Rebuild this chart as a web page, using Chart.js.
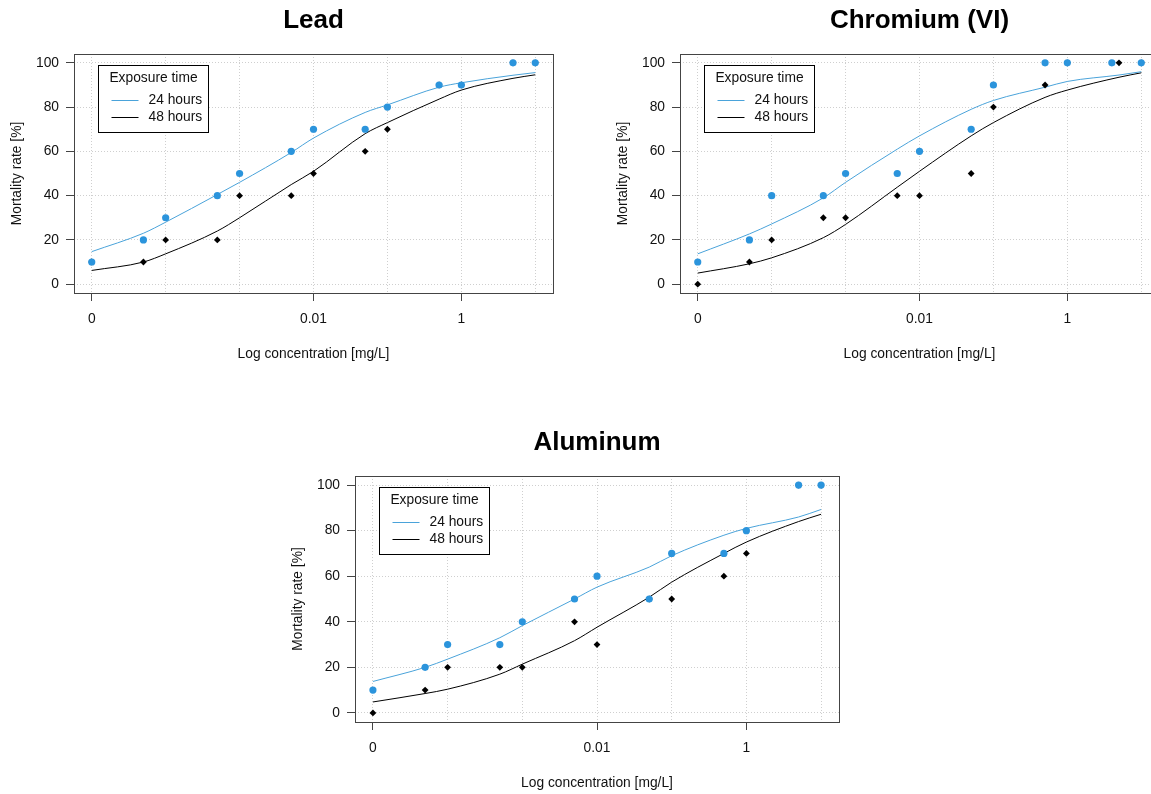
<!DOCTYPE html>
<html>
<head>
<meta charset="utf-8">
<script src="https://cdn.jsdelivr.net/npm/chart.js@4.4.1/dist/chart.umd.min.js"></script>
<style>
  html, body { margin: 0; padding: 0; background: #ffffff; overflow: hidden; width: 1151px; height: 794px; }
  .panel { position: absolute; }
  canvas { display: block; }
</style>
</head>
<body>
<div class="panel" style="left:0px;top:0px;"><canvas id="cLead" width="627" height="372" style="width:627px;height:372px"></canvas></div>
<div class="panel" style="left:606px;top:0px;"><canvas id="cCr" width="627" height="372" style="width:627px;height:372px"></canvas></div>
<div class="panel" style="left:281px;top:422px;"><canvas id="cAl" width="632" height="372" style="width:632px;height:372px"></canvas></div>
<script>
// ---------- data ----------
const BREAK_POINT = 0.00001;           // dose 0 is shown at this position of the log axis (label "0")
const doses      = [0, 0.00005, 0.0001, 0.0005, 0.001, 0.005, 0.01, 0.05, 0.1, 0.5, 1, 5, 10];
const dosesCr24  = [0, 0.00005, 0.0001, 0.0005, 0.001, 0.005, 0.01, 0.05, 0.1, 0.5, 1, 4, 10];
const curveDoses = [0, 0.00005, 0.0001, 0.0005, 0.001, 0.005, 0.01, 0.05, 0.1, 0.5, 1, 5, 10];

const lead24    = [10, 20, 30, 40, 50, 60, 70, 70, 80, 90, 90, 100, 100];
const lead48    = [10, 10, 20, 20, 40, 40, 50, 60, 70, 90, 90, 100, 100];
const leadFit24 = [14.7, 23, 28, 40.5, 46, 59.5, 66, 77.6, 81, 89, 91, 94.4, 95.6];
const leadFit48 = [6.2, 10, 13.7, 24, 30, 45, 51, 68, 73, 83.6, 87.7, 93, 94.6];

const cr24    = [10, 20, 40, 40, 50, 50, 60, 70, 90, 100, 100, 100, 100];
const cr48    = [0, 10, 20, 30, 30, 40, 40, 50, 80, 90, 100, 100, 100];
const crFit24 = [13.7, 22.7, 27.2, 39, 46, 61, 67, 79, 83, 89, 91.6, 94.5, 96];
const crFit48 = [5, 9.2, 11.9, 21, 27, 43.8, 51, 67, 73, 84.4, 87.7, 93.5, 95.5];

const al24    = [10, 20, 30, 30, 40, 50, 60, 50, 70, 70, 80, 100, 100];
const al48    = [0, 10, 20, 20, 20, 40, 30, 50, 50, 60, 70, 100, 100];
const alFit24 = [13.8, 20, 23.6, 33, 38.3, 50, 55.2, 64, 69, 78, 81, 86, 89.3];
const alFit48 = [4.8, 8.5, 10.4, 17, 21.4, 31.7, 37.6, 50.8, 57.4, 70, 75, 84, 87.2];

const xTickValues = [0.00001, 0.0001, 0.001, 0.01, 0.1, 1, 10];
const xTickLabels = ['0', '', '', '0.01', '', '1', ''];
const yTickValues = [0, 20, 40, 60, 80, 100];
const seriesLabels = ['24 hours', '48 hours'];
const legendTitle = 'Exposure time';

// ---------- styling ----------
const FONT = '"Liberation Sans", Arial, sans-serif';
const FS = 13.8;
const BLUE_PT = '#2b94dc';
const BLUE_LN = '#4aa3da';
const BLACK = '#000000';
const X_MIN = Math.pow(10, -5.24), X_MAX = Math.pow(10, 1.24);

function pts(xs, ys) {
  return xs.map((x, i) => ({ x: x === 0 ? BREAK_POINT : x, y: ys[i] }));
}

const boxPlugin = {
  id: 'plotBox',
  afterDraw(chart) {
    const { ctx, chartArea: a } = chart;
    ctx.save();
    ctx.strokeStyle = '#444';
    ctx.lineWidth = 1;
    ctx.strokeRect(Math.round(a.left) + 0.5, Math.round(a.top) + 0.5,
                   Math.round(a.right - a.left), Math.round(a.bottom - a.top));
    ctx.restore();
  }
};

const legendPlugin = {
  id: 'boxLegend',
  afterDatasetsDraw(chart) {
    const { ctx, chartArea: a } = chart;
    const x0 = Math.round(a.left + 24) + 0.5, y0 = Math.round(a.top + 11) + 0.5;
    const w = 110, h = 67;
    ctx.save();
    ctx.fillStyle = '#ffffff';
    ctx.fillRect(x0, y0, w, h);
    ctx.strokeStyle = '#000';
    ctx.lineWidth = 1;
    ctx.strokeRect(x0, y0, w, h);
    ctx.font = FS + 'px ' + FONT;
    ctx.fillStyle = '#111';
    ctx.textBaseline = 'middle';
    ctx.textAlign = 'center';
    ctx.fillText(legendTitle, x0 + w / 2, y0 + 13);
    const lines = chart.data.datasets.filter(d => d.isCurve);
    lines.forEach((d, i) => {
      const yy = Math.round(y0 + 34 + i * 17) + 0.5;
      ctx.strokeStyle = d.borderColor;
      ctx.beginPath();
      ctx.moveTo(x0 + 13, yy);
      ctx.lineTo(x0 + 40, yy);
      ctx.stroke();
      ctx.textAlign = 'left';
      ctx.fillText(d.label, x0 + 50, yy);
    });
    ctx.restore();
  }
};

function makeChart(id, title, d24, v24, d48, v48, f24, f48, xAxisH) {
  const ctx = document.getElementById(id);
  return new Chart(ctx, {
    type: 'line',
    data: {
      datasets: [
        { label: seriesLabels[0], data: pts(d24, v24), showLine: false, pointStyle: 'circle',
          pointRadius: 3.6, pointBackgroundColor: BLUE_PT, pointBorderColor: BLUE_PT, pointBorderWidth: 0, order: 0 },
        { label: seriesLabels[1], data: pts(d48, v48), showLine: false, pointStyle: 'rectRot',
          pointRadius: 3.4, pointBackgroundColor: BLACK, pointBorderColor: BLACK, pointBorderWidth: 0, order: 1 },
        { label: seriesLabels[0], isCurve: true, data: pts(curveDoses, f24), borderColor: BLUE_LN, borderWidth: 1,
          pointRadius: 0, cubicInterpolationMode: 'monotone', fill: false, order: 2 },
        { label: seriesLabels[1], isCurve: true, data: pts(curveDoses, f48), borderColor: BLACK, borderWidth: 1,
          pointRadius: 0, cubicInterpolationMode: 'monotone', fill: false, order: 3 }
      ]
    },
    options: {
      responsive: false,
      animation: false,
      devicePixelRatio: 1,
      layout: { padding: 0 },
      plugins: {
        legend: { display: false },
        tooltip: { enabled: false },
        title: {
          display: true, text: title, color: '#000',
          font: { family: FONT, size: 26, weight: 'bold', lineHeight: 1.2 },
          padding: { top: 5, bottom: 17.8 }
        }
      },
      scales: {
        x: {
          type: 'logarithmic', position: 'bottom', min: X_MIN, max: X_MAX, bounds: 'data',
          afterBuildTicks: (s) => { s.ticks = xTickValues.map(v => ({ value: v })); },
          afterFit: (s) => { s.height = xAxisH; },
          ticks: {
            autoSkip: false, maxRotation: 0, minRotation: 0, padding: 10, color: '#111',
            font: { family: FONT, size: FS },
            callback: (v, i) => xTickLabels[i]
          },
          grid: {
            color: '#cfcfcf', lineWidth: 1, tickLength: 8,
            tickBorderDash: [], tickWidth: 1,
            tickColor: (c) => (xTickLabels[c.index] ? '#444' : 'rgba(0,0,0,0)')
          },
          border: { display: false, dash: [1, 2] },
          title: {
            display: true, text: 'Log concentration [mg/L]', color: '#111',
            font: { family: FONT, size: FS },
            padding: { top: 0, bottom: xAxisH - 61 - FS * 0.6 }
          }
        },
        y: {
          type: 'linear', position: 'left', min: -4, max: 104,
          afterBuildTicks: (s) => { s.ticks = yTickValues.map(v => ({ value: v })); },
          afterFit: (s) => { s.width = 74; },
          ticks: { padding: 7, color: '#111', font: { family: FONT, size: FS } },
          grid: {
            color: '#cfcfcf', lineWidth: 1, tickLength: 8,
            tickBorderDash: [], tickWidth: 1, tickColor: '#444'
          },
          border: { display: false, dash: [1, 2] },
          title: {
            display: true, text: 'Mortality rate [%]', color: '#111',
            font: { family: FONT, size: FS },
            padding: { top: 9, bottom: 0 }
          }
        },
        ySpacer: {
          type: 'linear', position: 'right', min: 0, max: 1, display: true,
          afterFit: (s) => { s.width = 74; },
          ticks: { display: false },
          grid: { display: false, drawTicks: false },
          border: { display: false }
        }
      }
    },
    plugins: [boxPlugin, legendPlugin]
  });
}

makeChart('cLead', 'Lead', doses, lead24, doses, lead48, leadFit24, leadFit48, 79);
makeChart('cCr', 'Chromium (VI)', dosesCr24, cr24, doses, cr48, crFit24, crFit48, 79);
makeChart('cAl', 'Aluminum', doses, al24, doses, al48, alFit24, alFit48, 72);
</script>
</body>
</html>
